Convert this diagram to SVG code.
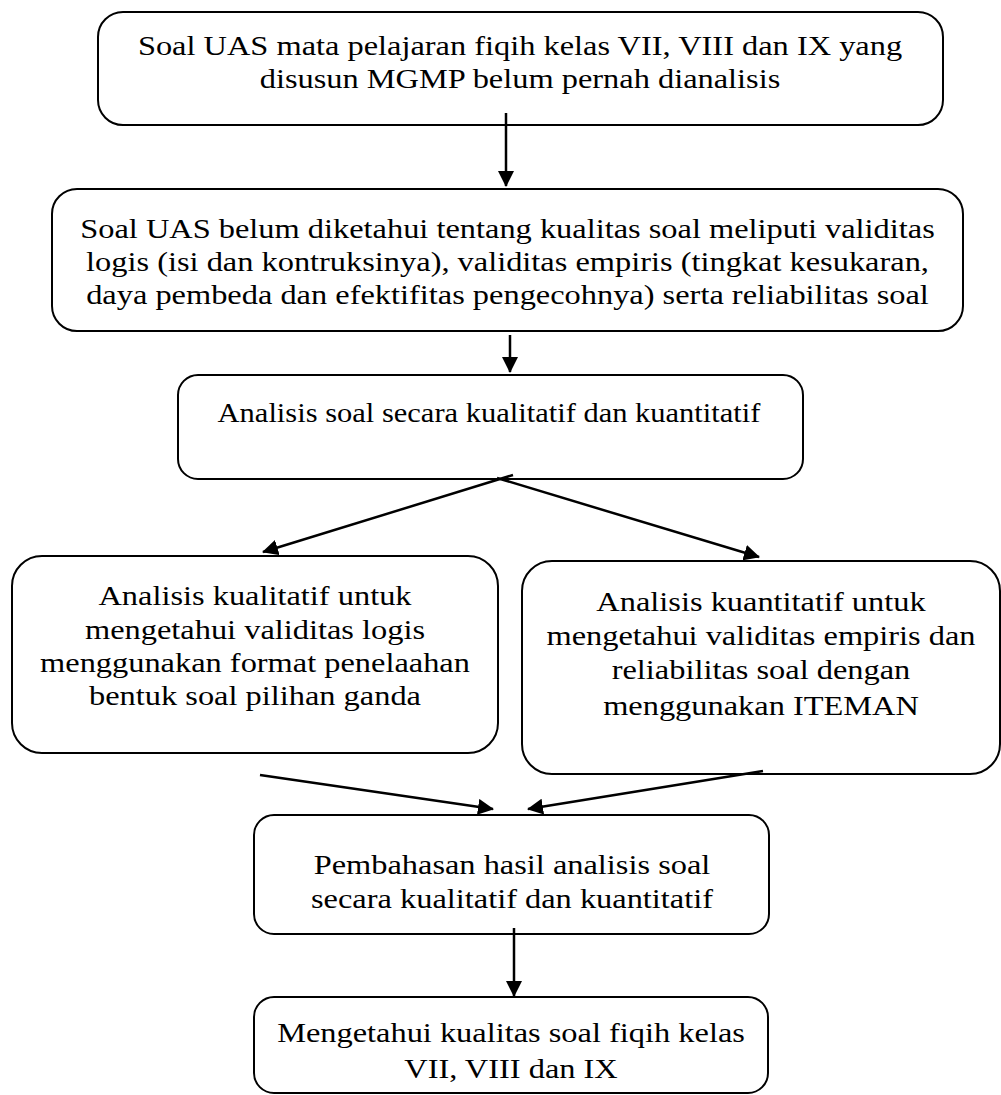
<svg xmlns="http://www.w3.org/2000/svg" width="1001" height="1095" viewBox="0 0 1001 1095">
<defs>
<marker id="ah" markerWidth="16" markerHeight="16" refX="15" refY="8" orient="auto" markerUnits="userSpaceOnUse">
<path d="M0,0 L16,8 L0,16 Z" fill="#000"/>
</marker>
<style>
.box{fill:#fff;stroke:#000;stroke-width:2}
.t{font-family:"Liberation Serif","Times New Roman",serif;font-size:27px;fill:#000;text-anchor:middle}
.c{stroke:#000;stroke-width:2.5;fill:none;marker-end:url(#ah)}
</style>
</defs>
<rect width="1001" height="1095" fill="#fff"/>
<g id="n1">
<rect class="box" x="98" y="12" width="845" height="113" rx="25"/>
<g transform="translate(520,0) scale(1.2,1)">
<text class="t" x="0" y="55">Soal UAS mata pelajaran fiqih kelas VII, VIII dan IX yang</text>
<text class="t" x="0" y="88">disusun MGMP belum pernah dianalisis</text>
</g>
</g>
<g id="n2">
<rect class="box" x="52" y="189" width="911" height="142" rx="25"/>
<g transform="translate(507.5,0) scale(1.2,1)">
<text class="t" x="0" y="238">Soal UAS belum diketahui tentang kualitas soal meliputi validitas</text>
<text class="t" x="0" y="271">logis (isi dan kontruksinya), validitas empiris (tingkat kesukaran,</text>
<text class="t" x="0" y="304">daya pembeda dan efektifitas pengecohnya) serta reliabilitas soal</text>
</g>
</g>
<g id="n3">
<rect class="box" x="178" y="375" width="625" height="104" rx="20"/>
<g transform="translate(489,0) scale(1.13,1)">
<text class="t" x="0" y="422">Analisis soal secara kualitatif dan kuantitatif</text>
</g>
</g>
<g id="n4">
<rect class="box" x="12" y="556" width="486" height="197" rx="30"/>
<g transform="translate(255,0) scale(1.2,1)">
<text class="t" x="0" y="605">Analisis kualitatif untuk</text>
<text class="t" x="0" y="639">mengetahui validitas logis</text>
<text class="t" x="0" y="672">menggunakan format penelaahan</text>
<text class="t" x="0" y="705">bentuk soal pilihan ganda</text>
</g>
</g>
<g id="n5">
<rect class="box" x="522" y="561" width="478" height="213" rx="30"/>
<g transform="translate(761,0) scale(1.2,1)">
<text class="t" x="0" y="611">Analisis kuantitatif untuk</text>
<text class="t" x="0" y="645">mengetahui validitas empiris dan</text>
<text class="t" x="0" y="679">reliabilitas soal dengan</text>
<text class="t" x="0" y="715">menggunakan ITEMAN</text>
</g>
</g>
<g id="n6">
<rect class="box" x="254" y="815" width="515" height="119" rx="20"/>
<g transform="translate(512,0) scale(1.2,1)">
<text class="t" x="0" y="874">Pembahasan hasil analisis soal</text>
<text class="t" x="0" y="908">secara kualitatif dan kuantitatif</text>
</g>
</g>
<g id="n7">
<rect class="box" x="254" y="997" width="514" height="96" rx="20"/>
<g transform="translate(511,0) scale(1.2,1)">
<text class="t" x="0" y="1042">Mengetahui kualitas soal fiqih kelas</text>
<text class="t" x="0" y="1078">VII, VIII dan IX</text>
</g>
</g>
<g id="connectors">
<line class="c" x1="506" y1="113" x2="506" y2="186"/>
<line class="c" x1="510" y1="335" x2="510" y2="372"/>
<line class="c" x1="513" y1="475" x2="263" y2="552"/>
<line class="c" x1="497" y1="478" x2="759" y2="557"/>
<line class="c" x1="260" y1="775" x2="493" y2="809"/>
<line class="c" x1="763" y1="771" x2="528" y2="809"/>
<line class="c" x1="514" y1="928" x2="514" y2="996"/>
</g>
</svg>
